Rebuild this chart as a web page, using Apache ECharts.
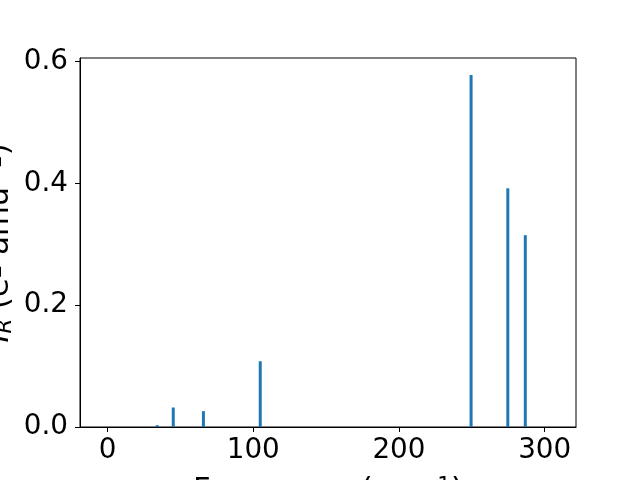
<!DOCTYPE html>
<html>
<head>
<meta charset="utf-8">
<script src="https://cdn.jsdelivr.net/npm/echarts@6/dist/echarts.min.js"></script>
<style>html,body{margin:0;padding:0;background:#fff;}#c{width:640px;height:480px;}</style>
</head>
<body>
<div id="c"></div>
<script>
const frequencies = [34.1, 45.1, 65.8, 104.8, 249.5, 274.7, 286.7];
const intensities = [0.003, 0.032, 0.026, 0.108, 0.578, 0.392, 0.315];
const xTicks = [0, 100, 200, 300];
const yTicks = [0.0, 0.2, 0.4, 0.6];

const FONT = 'DejaVu Sans';
const FS = 27.8;
const LFS = 30.6;
const chart = echarts.init(document.getElementById('c'), null, {renderer: 'canvas'});
chart.setOption({
  animation: false,
  backgroundColor: '#ffffff',
  grid: {left: 80, right: 64, top: 58, bottom: 53, show: true, borderColor: '#000', borderWidth: 1, backgroundColor: 'transparent'},
  xAxis: {
    type: 'value', min: -18.9, max: 321.5,
    axisLine: {show: true, onZero: false, lineStyle: {color: '#000', width: 1}},
    axisTick: {show: true, length: 5, lineStyle: {color: '#000'}, customValues: xTicks},
    axisLabel: {show: true, color: '#000', fontFamily: FONT, fontSize: FS, margin: 10, customValues: xTicks,
      formatter: v => String(Math.round(v))},
    splitLine: {show: false}
  },
  yAxis: {
    type: 'value', min: 0, max: 0.606,
    axisLine: {show: true, onZero: false, lineStyle: {color: '#000', width: 1}},
    axisTick: {show: true, length: 5, lineStyle: {color: '#000'}, customValues: yTicks},
    axisLabel: {show: true, color: '#000', fontFamily: FONT, fontSize: FS, margin: 12, customValues: yTicks,
      formatter: v => v.toFixed(1)},
    splitLine: {show: false}
  },
  graphic: [
    {
      type: 'text', x: 0, y: 243, rotation: Math.PI / 2,
      style: {
        text: '{i|I}{sub|R} (e{sup|2} amu{sup|−1})',
        font: LFS + 'px ' + FONT, fill: '#000', align: 'center', verticalAlign: 'middle',
        rich: {
          i: {fontFamily: FONT, fontSize: LFS, fontStyle: 'italic', fill: '#000'},
          sub: {fontFamily: FONT, fontSize: LFS * 0.7, fontStyle: 'italic', verticalAlign: 'bottom', fill: '#000'},
          sup: {fontFamily: FONT, fontSize: LFS * 0.7, verticalAlign: 'top', fill: '#000'}
        }
      }
    },
    {
      type: 'text', x: 328, y: 507,
      style: {
        text: 'Frequency (cm{sup|−1})',
        font: LFS + 'px ' + FONT, fill: '#000', align: 'center', verticalAlign: 'bottom',
        rich: {
          sup: {fontFamily: FONT, fontSize: LFS * 0.7, verticalAlign: 'top', fill: '#000'}
        }
      }
    }
  ],
  series: [{
    type: 'bar',
    data: frequencies.map((f, i) => [f, intensities[i]]),
    barWidth: 3,
    itemStyle: {color: '#1f77b4'}
  }]
});
</script>
</body>
</html>
